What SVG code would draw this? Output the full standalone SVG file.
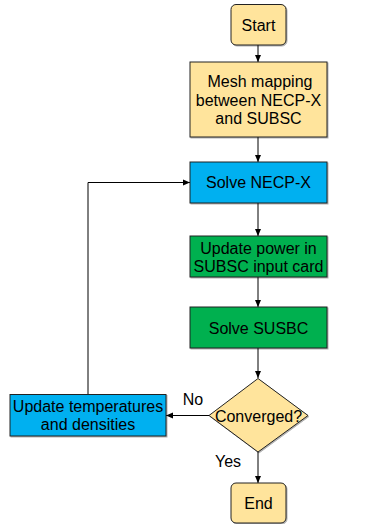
<svg xmlns="http://www.w3.org/2000/svg" width="370" height="524" viewBox="0 0 370 524">
<defs>
<marker id="ah" markerWidth="8" markerHeight="8" refX="7" refY="4" orient="auto" markerUnits="userSpaceOnUse">
<path d="M0,1 L7,4 L0,7 Z" fill="#000"/>
</marker>
<filter id="sh" x="-10%" y="-10%" width="130%" height="130%">
<feDropShadow dx="1" dy="1" stdDeviation="0.6" flood-color="#000" flood-opacity="0.3"/>
</filter>
</defs>
<style>
.n{stroke:#222;stroke-width:1;filter:url(#sh)}
.y{fill:#FFE49C}
.b{fill:#00B0F0}
.g{fill:#00B050}
text{font-family:"Liberation Sans",Arial,sans-serif;font-size:16px;fill:#000;text-anchor:middle}
.c{stroke:#000;stroke-width:1;fill:none;marker-end:url(#ah)}
</style>
<rect width="370" height="524" fill="#fff"/>
<g id="connectors">
<path class="c" d="M258,45 V62"/>
<path class="c" d="M258,137 V162"/>
<path class="c" d="M258,203 V236"/>
<path class="c" d="M258,277 V307"/>
<path class="c" d="M258,348 V378"/>
<path class="c" d="M258,452 V483"/>
<path class="c" d="M209,415.5 H166"/>
<path class="c" d="M88,394 V182.5 H190"/>
<text x="193" y="405">No</text>
<text x="228" y="467">Yes</text>
</g>
<g id="start"><rect class="n y" x="231" y="4.5" width="55" height="40.5" rx="5"/><text x="258.5" y="30.5">Start</text></g>
<g id="mesh"><rect class="n y" x="190" y="62" width="137" height="75"/><text x="260" y="86.5">Mesh mapping</text><text x="258.5" y="105.5">between NECP-X</text><text x="258.5" y="124">and SUBSC</text></g>
<g id="solve-necp"><rect class="n b" x="190" y="162" width="137" height="41"/><text x="258.5" y="188">Solve NECP-X</text></g>
<g id="update-power"><rect class="n g" x="190" y="236" width="137" height="41"/><text x="258.5" y="253.5">Update power in</text><text x="258.5" y="272">SUBSC input card</text></g>
<g id="solve-susbc"><rect class="n g" x="190" y="307" width="137" height="41"/><text x="258.5" y="333.5">Solve SUSBC</text></g>
<g id="converged"><polygon class="n y" points="258,378.5 308,415.5 258,452 209,415.5"/><text x="258.5" y="421.5">Converged?</text></g>
<g id="update-temp"><rect class="n b" x="10" y="394.5" width="156" height="41.5"/><text x="88" y="411.5" font-size="15.5">Update temperatures</text><text x="88" y="430" font-size="15.5">and densities</text></g>
<g id="end"><rect class="n y" x="231" y="483" width="55" height="40" rx="5"/><text x="258.5" y="508.5">End</text></g>
</svg>
